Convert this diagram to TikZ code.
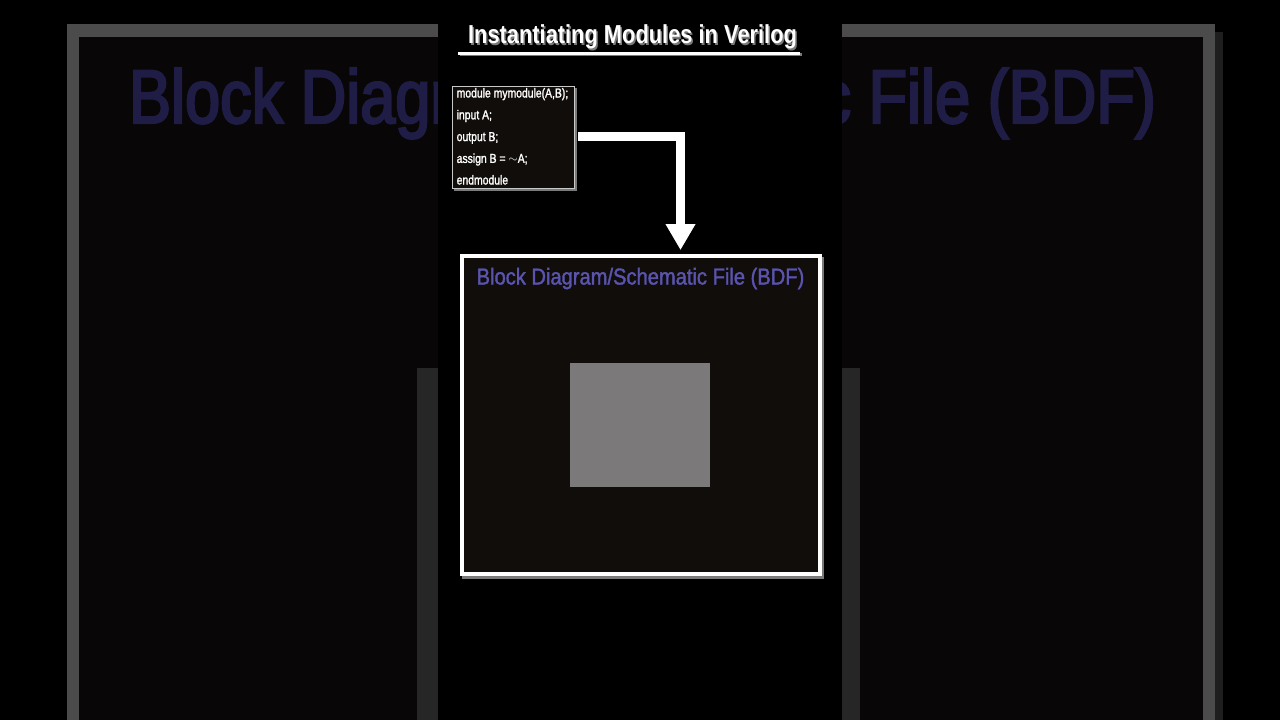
\documentclass[tikz,border=0pt]{standalone}
\usepackage{fontspec}
\setmainfont{Liberation Sans}
\newfontfamily\titlefont[FakeStretch=0.84]{Liberation Sans}
\newfontfamily\bdffont[FakeStretch=0.875,FakeBold=1.5]{Liberation Sans}
\newfontfamily\bgfont[FakeStretch=0.83,FakeBold=3]{Liberation Sans}
\newfontfamily\codefont[FakeStretch=0.8,FakeBold=1.5]{Liberation Sans}
\usetikzlibrary{arrows.meta,calc}
\definecolor{bgframe}{HTML}{4B4B4B}
\definecolor{bgshade}{HTML}{1E1E1E}
\definecolor{bgin}{HTML}{080606}
\definecolor{bgtext}{HTML}{1F1D46}
\definecolor{stripc}{HTML}{262626}
\definecolor{boxfill}{HTML}{110D0B}
\definecolor{bdftext}{HTML}{5A54B0}
\definecolor{squarec}{HTML}{7B7979}
\definecolor{shadowc}{HTML}{7A7A7A}
\definecolor{codeborder}{HTML}{C8C8C8}
\tikzset{
  bgtitle/.style={anchor=base, inner sep=0pt, text=bgtext, font=\bgfont\fontsize{76}{80}\selectfont},
  maintitle/.style={anchor=base, inner sep=0pt, text=white, font=\titlefont\bfseries\fontsize{26}{30}\selectfont},
  titleshadow/.style={maintitle, text=shadowc},
  codebox/.style={draw=codeborder, line width=1.3pt, fill=boxfill, inner sep=0pt, outer sep=0pt, minimum width=122pt, minimum height=102pt},
  codeline/.style={anchor=base west, inner sep=0pt, text=white, font=\codefont\fontsize{13}{14}\selectfont},
  bdfbox/.style={draw=white, line width=4pt, fill=boxfill, inner sep=0pt, outer sep=0pt, minimum width=358.5pt, minimum height=318pt},
  shadowbox/.style={fill=shadowc, inner sep=0pt, outer sep=0pt},
  bdftitle/.style={anchor=base, inner sep=0pt, text=bdftext, font=\bdffont\fontsize{23}{26}\selectfont},
  graysq/.style={fill=squarec, inner sep=0pt, outer sep=0pt, minimum width=140pt, minimum height=124pt},
  bigarrow/.style={draw=white, line width=9pt, line join=miter, -{Triangle[width=28pt,length=26pt]}},
  bigarrowshadow/.style={bigarrow, draw=shadowc},
  rule/.style={draw=white, line width=3pt},
  ruleshadow/.style={draw=shadowc, line width=3pt}
}
\begin{document}
\begin{tikzpicture}[x=1pt,y=-1pt]
\useasboundingbox (0,0) rectangle (1280,720);
% blurred background copy
\fill[black] (0,0) rectangle (1280,720);
\fill[bgshade] (1215,32) rectangle (1223,720);
\fill[bgframe] (67,24) rectangle (1215,720);
\fill[bgin] (79,37) rectangle (1203,720);
\node[bgtitle] (bgt) at (642.5,123) {Block Diagram/Schematic File (BDF)};
\fill[stripc] (417,368) rectangle (438,720);
\fill[stripc] (842,368) rectangle (860,720);
\fill[black] (438,0) rectangle (842,720);
% title
\node[titleshadow] (titlesh) at (634,45) {Instantiating Modules in Verilog};
\node[maintitle] (title) at (632.5,43.5) {Instantiating Modules in Verilog};
\coordinate (ula) at (458,53);
\coordinate (ulb) at (800,53);
\draw[ruleshadow] ([shift={(1.5,1.8)}]ula) -- ([shift={(1.5,1.8)}]ulb);
\draw[rule] (ula) -- (ulb);
% code box
\node[shadowbox, minimum width=123pt, minimum height=103pt] (codesh) at (515.5,139.5) {};
\node[codebox] (code) at (513.5,137.5) {};
\node[codeline] (c1) at (456.5,97.5) {module mymodule(A,B);};
\node[codeline] (c2) at (456.5,119.3) {input A;};
\node[codeline] (c3) at (456.5,141.1) {output B;};
\node[codeline] (c4) at (456.5,162.9) {assign B = $\sim$A;};
\node[codeline] (c5) at (456.5,184.5) {endmodule};
% BDF box
\node[shadowbox, minimum width=362pt, minimum height=322pt] (bdfsh) at (643,417.5) {};
\node[bdfbox] (bdf) at (640.75,415) {};
\node[bdftitle] (bdft) at (640.5,284.5) {Block Diagram/Schematic File (BDF)};
\node[graysq] (block) at (639.5,424.5) {};
% arrow
\coordinate (astart) at ($(code.east)+(3.5,-1.5)$);
\coordinate (abend) at (680.5,136);
\coordinate (atip) at ($(bdf.north -| abend)+(0,-6)$);
\begin{scope}[shift={(2,2)}]
\draw[bigarrowshadow] (astart) -- (abend) -- (atip);
\end{scope}
\draw[bigarrow] (astart) -- (abend) -- (atip);
\end{tikzpicture}
\end{document}
